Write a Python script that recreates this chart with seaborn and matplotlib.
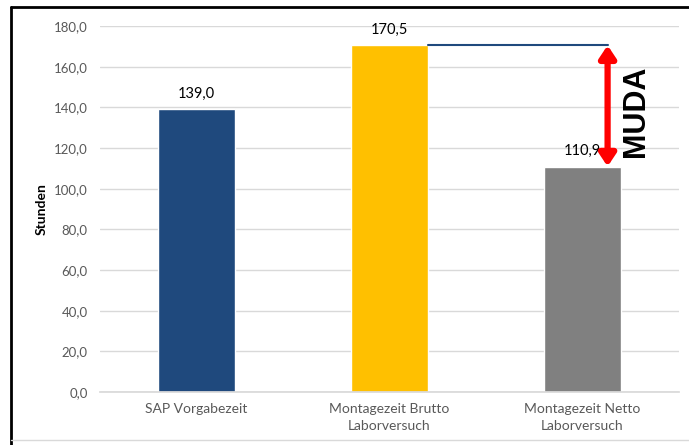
import matplotlib
matplotlib.use("Agg")
import matplotlib.pyplot as plt
import seaborn as sns
import pandas as pd
from matplotlib.lines import Line2D

categories = ["SAP Vorgabezeit", "Montagezeit Brutto\nLaborversuch", "Montagezeit Netto\nLaborversuch"]
stunden = [139.0, 170.5, 110.9]
farben = ["#1F497D", "#FFC000", "#808080"]
yticks = [0, 20, 40, 60, 80, 100, 120, 140, 160, 180]

df = pd.DataFrame({"Kategorie": categories, "Stunden": stunden})

sns.set_theme(style="white")
plt.rcParams["font.family"] = ["Lato", "DejaVu Sans"]

fig = plt.figure(figsize=(6.89, 4.45), dpi=100)
ax = fig.add_axes([100 / 689, 53 / 445, 579 / 689, 366 / 445])

sns.barplot(data=df, x="Kategorie", y="Stunden", hue="Kategorie", palette=farben,
            width=0.4, legend=False, ax=ax, saturation=1)

ax.set_ylim(0, 180)
ax.set_xlim(-0.5, 2.5)
ax.set_yticks(yticks)
ax.set_yticklabels([f"{v:.1f}".replace(".", ",") for v in yticks], color="#595959", fontsize=9.5)
ax.tick_params(axis="x", colors="#595959", labelsize=10, length=0, pad=8)
ax.tick_params(axis="y", length=0, pad=9)
for lbl in ax.get_xticklabels():
    lbl.set_multialignment("center")
    lbl.set_linespacing(1.45)
ax.set_xlabel("")
ax.set_ylabel("Stunden", fontsize=10, fontweight="bold", color="black", labelpad=4)
ax.yaxis.grid(True, color="#D9D9D9", lw=1)
ax.set_axisbelow(True)
for s in ["top", "right", "left"]:
    ax.spines[s].set_visible(False)
ax.spines["bottom"].set_color("#D9D9D9")

for i, v in enumerate(stunden):
    ax.text(i, v + 4, f"{v:.1f}".replace(".", ","), ha="center", va="bottom",
            fontsize=10.5, color="black")

# Linie und Pfeil fuer MUDA
x_pfeil = 2.13
ax.plot([1.2, x_pfeil], [stunden[1], stunden[1]], color="#1F497D", lw=1.5)
ax.annotate("", xy=(x_pfeil, stunden[2]), xytext=(x_pfeil, stunden[1]),
            arrowprops=dict(arrowstyle="<|-|>,head_length=0.6,head_width=0.4",
                            lw=4.5, color="red", shrinkA=0, shrinkB=0))
ax.text(2.275, 138, "MUDA", rotation=90, ha="center", va="center", fontsize=22,
        fontweight="bold", color="black", family=["Liberation Sans", "DejaVu Sans"])

# Rahmen
fig.add_artist(Line2D([11 / 689, 11 / 689], [0, 1 - 7 / 445], color="black", lw=2))
fig.add_artist(Line2D([11 / 689, 1], [1 - 7 / 445, 1 - 7 / 445], color="black", lw=2))
fig.add_artist(Line2D([11 / 689, 1], [5 / 445, 5 / 445], color="#D9D9D9", lw=1))

fig.savefig("out.png", dpi=100)
